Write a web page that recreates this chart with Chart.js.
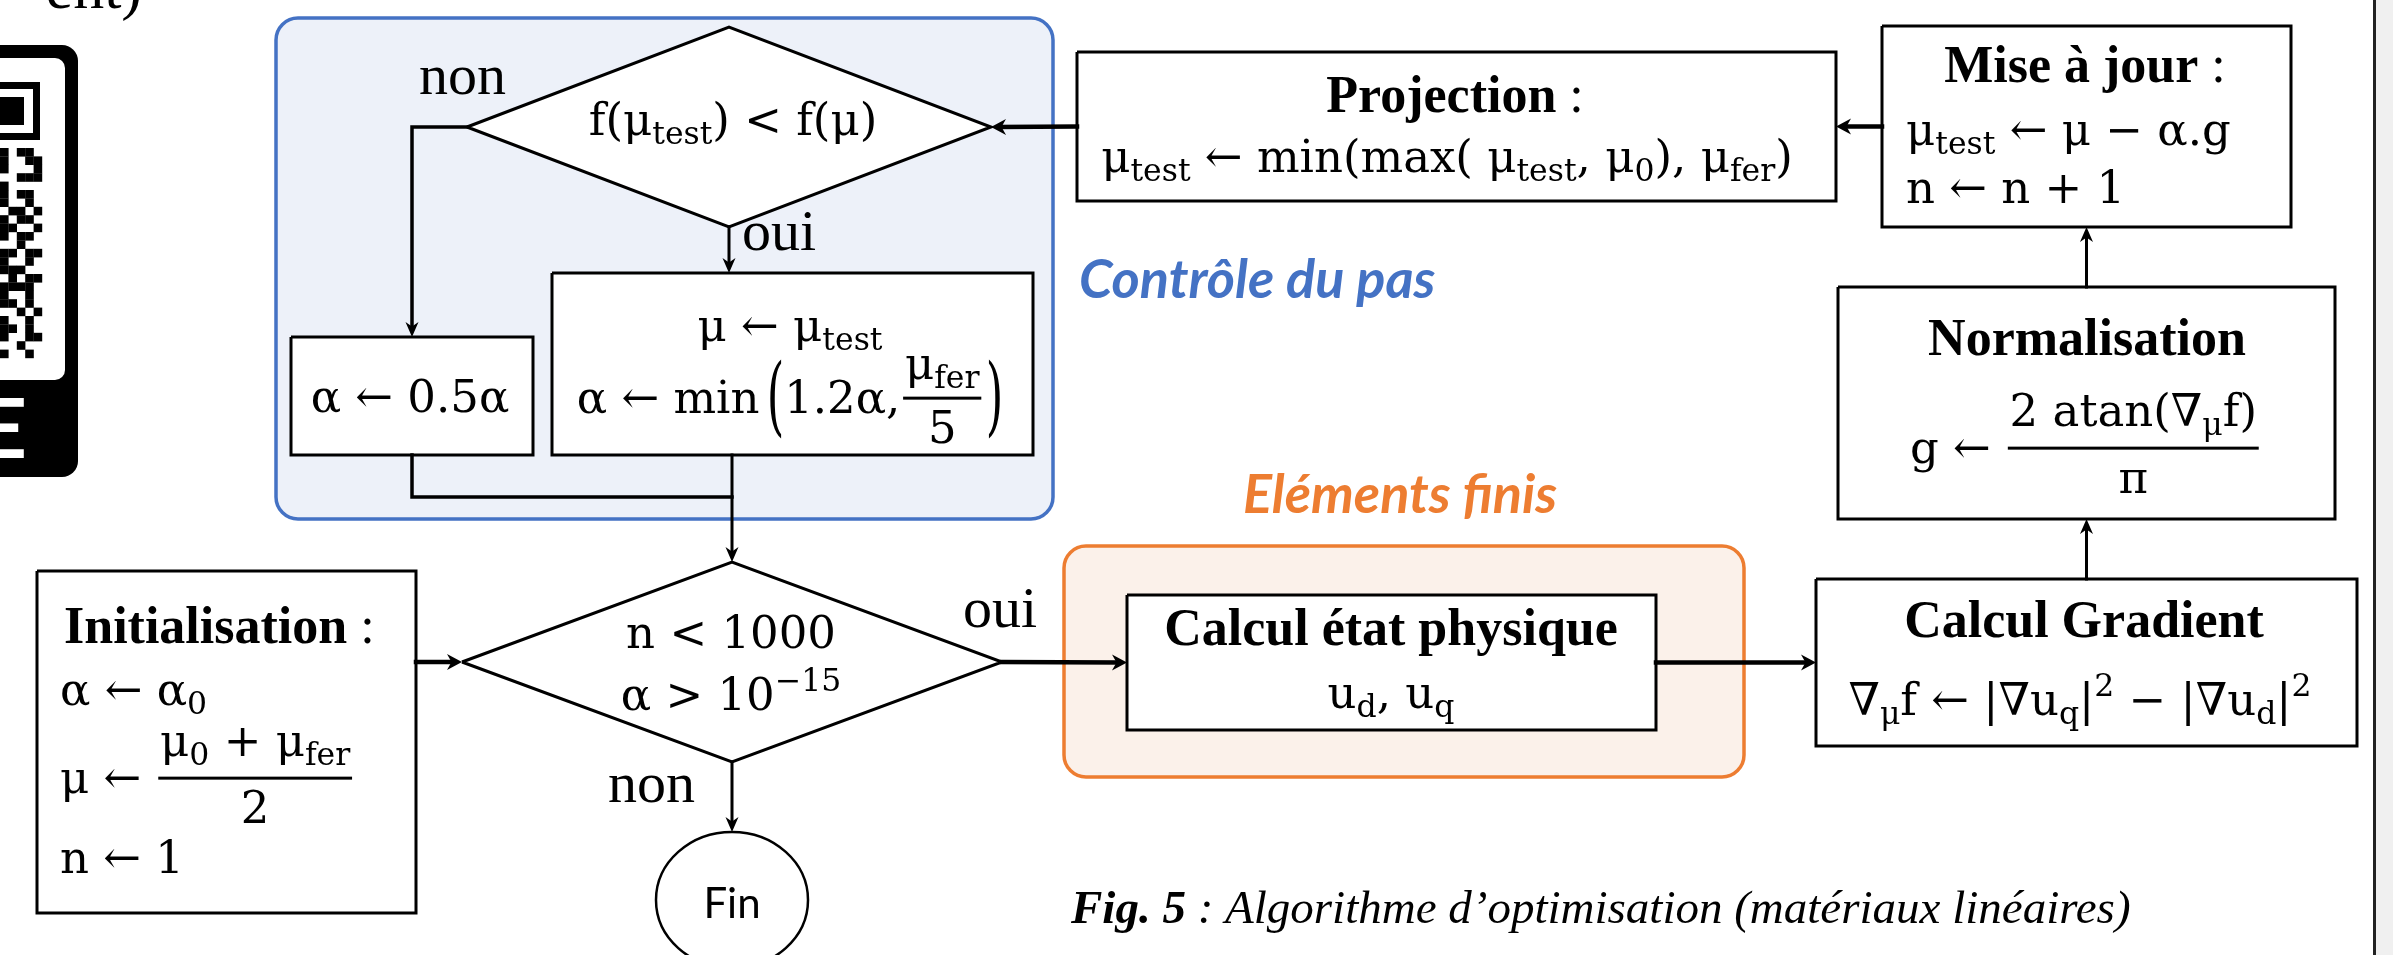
<!DOCTYPE html>
<html>
<head>
<meta charset="utf-8">
<title>Algorithme d'optimisation</title>
<script src="https://cdn.jsdelivr.net/npm/chart.js@4.4.1/dist/chart.umd.min.js"></script>
<style>
  html, body { margin: 0; padding: 0; background: #ffffff; overflow: hidden; }
  canvas { display: block; }
</style>
</head>
<body>
<canvas id="flowChart" width="2393" height="955"></canvas>
<script>
// ---- diagram content ----
var stepTitles = ['Initialisation', 'Projection', 'Mise à jour', 'Normalisation', 'Calcul Gradient', 'Calcul état physique'];
var testCondition = ['f(μ_{test}) < f(μ)'];
var loopCondition = ['n < 1000', 'α > 10^{−15}'];
var branchLabels = ['oui', 'non'];
var endLabel = ['Fin'];
var groupLabels = ['Contrôle du pas', 'Eléments finis'];
var captionParts = ['Fig. 5', ' : Algorithme d’optimisation (matériaux linéaires)'];

// formulas: _{} and ^{} are indices, objects are fractions / tall brackets
var initFormulas = ['α ← α_{0}', ['μ ← ', {frac: ['μ_{0} + μ_{fer}', '2']}], 'n ← 1'];
var shrinkFormula = ['α ← 0.5α'];
var acceptFormulas = ['μ ← μ_{test}', ['α ← min', {gap: 0.12}, {big: '(', k: 1.9}, '1.2α,', {frac: ['μ_{fer}', '5'], up: 0.42}, {big: ')', k: 1.9}]];
var projFormula = ['μ_{test} ← min(max( μ_{test}, μ_{0}), μ_{fer})'];
var updateFormulas = ['μ_{test} ← μ − α.g', 'n ← n + 1'];
var normFormula = [['g ← ', {frac: ['2 atan(∇_{μ}f)', 'π']}]];
var gradFormula = ['∇_{μ}f ← |∇u_{q}|^{2} − |∇u_{d}|^{2}'];
var femFormula = ['u_{d}, u_{q}'];

// ---- layout (axis units = pixels of the 2393 x 955 page) ----
var nodes = {
    init:   {shape: 'rect', box: [37, 571, 416, 913]},
    shrink: {shape: 'rect', box: [291, 337, 533, 455]},
    accept: {shape: 'rect', box: [552, 273, 1033, 455]},
    proj:   {shape: 'rect', box: [1077, 52, 1836, 201]},
    update: {shape: 'rect', box: [1882, 26, 2291, 227]},
    norm:   {shape: 'rect', box: [1838, 287, 2335, 519]},
    grad:   {shape: 'rect', box: [1816, 579, 2357, 746]},
    fem:    {shape: 'rect', box: [1127, 595, 1656, 730]},
    test:   {shape: 'diamond', box: [467, 27, 991, 227]},
    loop:   {shape: 'diamond', box: [462, 562, 1002, 762]}
};
var endNode = [656, 832, 808, 968];
var groups = [
    {box: [276, 18, 1053, 519], fill: '#edf1f9', stroke: '#4472c4'},
    {box: [1064, 546, 1744, 777], fill: '#fbf1ea', stroke: '#ed7d31'}
];
var mergeY = 497;

function cx(id) { var b = nodes[id].box; return (b[0] + b[2]) / 2; }
function cy(id) { var b = nodes[id].box; return (b[1] + b[3]) / 2; }
function anchor(id, side) {
    var b = nodes[id].box;
    if (side === 'left') return [b[0], cy(id)];
    if (side === 'right') return [b[2], cy(id)];
    if (side === 'top') return [cx(id), b[1]];
    return [cx(id), b[3]];
}

var edges = [
    {pts: [anchor('proj', 'left'), anchor('test', 'right')], arrow: true, w: 4.5},
    {pts: [anchor('update', 'left'), anchor('proj', 'right')], arrow: true, w: 4.5},
    {pts: [anchor('norm', 'top'), anchor('update', 'bottom')], arrow: true, w: 3},
    {pts: [anchor('grad', 'top'), anchor('norm', 'bottom')], arrow: true, w: 3},
    {pts: [anchor('fem', 'right'), anchor('grad', 'left')], arrow: true, w: 4.5},
    {pts: [anchor('loop', 'right'), anchor('fem', 'left')], arrow: true, w: 4.5},
    {pts: [[nodes.init.box[2], cy('loop')], anchor('loop', 'left')], arrow: true, w: 4.5},
    {pts: [anchor('loop', 'bottom'), [cx('loop'), endNode[1]]], arrow: true, w: 3},
    {pts: [anchor('test', 'bottom'), [cx('test'), nodes.accept.box[1]]], arrow: true, w: 3},
    {pts: [anchor('test', 'left'), [cx('shrink'), cy('test')], anchor('shrink', 'top')], arrow: true, w: 3.5},
    {pts: [anchor('shrink', 'bottom'), [cx('shrink'), mergeY], [cx('loop'), mergeY]], arrow: false, w: 3.5},
    {pts: [[cx('loop'), nodes.accept.box[3]], anchor('loop', 'top')], arrow: true, w: 3}
];

var colon = {plain: ' :'};
var texts = [
    {lines: testCondition, x: 733, y: [135], align: 'center', kind: 'math'},
    {lines: shrinkFormula, x: 410, y: [412], align: 'center', kind: 'math'},
    {lines: acceptFormulas, x: 790, y: [341, 413], align: 'center', kind: 'math'},
    {lines: [[stepTitles[1], colon]], x: 1455, y: [112], align: 'center', kind: 'title'},
    {lines: projFormula, x: 1447, y: [172], align: 'center', kind: 'math'},
    {lines: [[stepTitles[2], colon]], x: 2085, y: [82], align: 'center', kind: 'title'},
    {lines: updateFormulas, x: 1906, y: [145, 203], align: 'left', kind: 'math'},
    {lines: [stepTitles[3]], x: 2087, y: [355], align: 'center', kind: 'title'},
    {lines: normFormula, x: 1910, y: [463], align: 'left', kind: 'math'},
    {lines: [stepTitles[4]], x: 2084, y: [637], align: 'center', kind: 'title'},
    {lines: gradFormula, x: 2080, y: [715], align: 'center', kind: 'math'},
    {lines: [stepTitles[5]], x: 1391, y: [645], align: 'center', kind: 'title'},
    {lines: femFormula, x: 1391, y: [708], align: 'center', kind: 'math'},
    {lines: [[stepTitles[0], colon]], x: 64, y: [643], align: 'left', kind: 'title'},
    {lines: initFormulas, x: 60, y: [705, 793, 873], align: 'left', kind: 'math'},
    {lines: loopCondition, x: 731, y: [648, 710], align: 'center', kind: 'math'},
    {lines: [branchLabels[0]], x: 742, y: [250], align: 'left', kind: 'label'},
    {lines: [branchLabels[1]], x: 419, y: [94], align: 'left', kind: 'label'},
    {lines: [branchLabels[0]], x: 963, y: [627], align: 'left', kind: 'label'},
    {lines: [branchLabels[1]], x: 608, y: [802], align: 'left', kind: 'label'},
    {lines: endLabel, x: 732, y: [918], align: 'center', kind: 'sans'},
    {lines: [groupLabels[0]], x: 1079, y: [298], align: 'left', kind: 'group', color: '#4472c4'},
    {lines: [groupLabels[1]], x: 1243, y: [513], align: 'left', kind: 'group', color: '#ed7d31'}
];

var fonts = {
    math:  {size: 45, fam: '"DejaVu Serif", serif', style: ''},
    title: {size: 52, fam: '"Liberation Serif", serif', style: 'bold'},
    label: {size: 58, fam: '"Liberation Serif", serif', style: ''},
    sans:  {size: 42, fam: 'Lato, "Open Sans", sans-serif', style: ''},
    group: {size: 54, fam: 'Lato, "Open Sans", sans-serif', style: 'italic bold'},
    caption: {size: 47, fam: '"Liberation Serif", serif', style: 'italic'}
};

// qr badge at the left border (decoration)
var qrRows = ['X.XX.', 'X..XX', 'X...X', '..XXX', 'X....', 'X.XX.', 'X..X.', '.XX.X', 'X.XX.', 'XX..X',
              'X.XX.', '..X..', 'XX.XX', 'X..X.', 'XXX..', '.X.XX', 'XXXX.', 'X..X.', 'XX.X.', '..X.X',
              'X..X.', 'XX.X.', 'X..XX', '..X..', 'X..X.'];

// ---- mini math text ----
function parseRuns(s) {
    var runs = [], re = /([_^])\{([^}]*)\}/g, last = 0, m;
    while ((m = re.exec(s))) {
        if (m.index > last) runs.push({t: s.slice(last, m.index), k: ''});
        runs.push({t: m[2], k: m[1]});
        last = re.lastIndex;
    }
    if (last < s.length) runs.push({t: s.slice(last), k: ''});
    return runs;
}
function fontStr(size, f) { return (f.style ? f.style + ' ' : '') + size + 'px ' + f.fam; }

function measureItem(ctx, it, size, f) {
    if (typeof it === 'string') {
        var w = 0;
        parseRuns(it).forEach(function (r) {
            ctx.font = fontStr(r.k ? size * 0.7 : size, f);
            w += ctx.measureText(r.t).width;
        });
        return w;
    }
    if (it.plain) { ctx.font = size + 'px ' + f.fam; return ctx.measureText(it.plain).width; }
    if (it.frac) {
        return Math.max(measureItem(ctx, it.frac[0], size, f), measureItem(ctx, it.frac[1], size, f)) + size * 0.2;
    }
    if (it.big) { ctx.font = fontStr(size, f); return ctx.measureText(it.big).width * 1.1; }
    if (it.gap) return it.gap * size;
    return 0;
}
function drawItem(ctx, it, x, y, size, f) {
    if (typeof it === 'string') {
        parseRuns(it).forEach(function (r) {
            var s = r.k ? size * 0.7 : size;
            var dy = r.k === '_' ? size * 0.2 : (r.k === '^' ? -size * 0.42 : 0);
            ctx.font = fontStr(s, f);
            ctx.fillText(r.t, x, y + dy);
            x += ctx.measureText(r.t).width;
        });
    } else if (it.plain) {
        ctx.font = size + 'px ' + f.fam;
        ctx.fillText(it.plain, x, y);
    } else if (it.frac) {
        var w = measureItem(ctx, it, size, f);
        var bar = y - size * 0.33;
        ctx.fillRect(x + size * 0.06, bar - 1.5, w - size * 0.12, 3);
        var nw = measureItem(ctx, it.frac[0], size, f);
        var dw = measureItem(ctx, it.frac[1], size, f);
        drawItem(ctx, it.frac[0], x + (w - nw) / 2, bar - size * (it.up || 0.5), size, f);
        drawItem(ctx, it.frac[1], x + (w - dw) / 2, bar + size * (it.down || 1.0), size, f);
    } else if (it.big) {
        ctx.save();
        ctx.font = fontStr(size, f);
        ctx.translate(x, y - size * 0.33);
        ctx.scale(1, it.k);
        ctx.fillText(it.big, size * 0.04, size * 0.31);
        ctx.restore();
    }
}
function drawLine(ctx, line, x, y, align, f) {
    var items = typeof line === 'string' ? [line] : line;
    var w = 0;
    items.forEach(function (it) { w += measureItem(ctx, it, f.size, f); });
    var px = align === 'center' ? x - w / 2 : x;
    items.forEach(function (it) {
        drawItem(ctx, it, px, y, f.size, f);
        px += measureItem(ctx, it, f.size, f);
    });
}

function roundRect(ctx, x1, y1, x2, y2, r) {
    ctx.beginPath();
    ctx.moveTo(x1 + r, y1);
    ctx.arcTo(x2, y1, x2, y2, r);
    ctx.arcTo(x2, y2, x1, y2, r);
    ctx.arcTo(x1, y2, x1, y1, r);
    ctx.arcTo(x1, y1, x2, y1, r);
    ctx.closePath();
}

// ---- datasets built from the layout ----
function outline(node) {
    var b = node.box, mx = (b[0] + b[2]) / 2, my = (b[1] + b[3]) / 2;
    if (node.shape === 'diamond') {
        return [{x: b[0], y: my}, {x: mx, y: b[1]}, {x: b[2], y: my}, {x: mx, y: b[3]}, {x: b[0], y: my}];
    }
    return [{x: b[0], y: b[1]}, {x: b[2], y: b[1]}, {x: b[2], y: b[3]}, {x: b[0], y: b[3]}, {x: b[0], y: b[1]}];
}
var HEAD = 15;
function edgeData(e) {
    var pts = e.pts.map(function (p) { return {x: p[0], y: p[1]}; });
    if (e.arrow) {
        var a = pts[pts.length - 2], b = pts[pts.length - 1];
        var dx = b.x - a.x, dy = b.y - a.y, len = Math.sqrt(dx * dx + dy * dy);
        pts[pts.length - 1] = {x: b.x - dx / len * HEAD * 0.6, y: b.y - dy / len * HEAD * 0.6};
    }
    return pts;
}

var datasets = [];
edges.forEach(function (e) {
    datasets.push({data: edgeData(e), borderColor: '#000', borderWidth: e.w, fill: false,
        borderJoinStyle: 'miter', borderCapStyle: 'square', pointRadius: 0});
});
Object.keys(nodes).forEach(function (id) {
    datasets.push({data: outline(nodes[id]), borderColor: '#000', borderWidth: 3, fill: 'shape',
        backgroundColor: '#ffffff', borderJoinStyle: 'miter', pointRadius: 0});
});

var diagramPlugin = {
    id: 'diagram',
    beforeDatasetsDraw: function (chart) {
        var ctx = chart.ctx, X = chart.scales.x, Y = chart.scales.y;
        function px(v) { return X.getPixelForValue(v); }
        function py(v) { return Y.getPixelForValue(v); }
        ctx.save();
        // page edge on the right
        ctx.fillStyle = '#f0f0f0';
        ctx.fillRect(px(2376), py(0), px(2393) - px(2376), py(955) - py(0));
        ctx.fillStyle = '#222';
        ctx.fillRect(px(2373), py(0), 3, py(955) - py(0));

        // cropped text at the top-left corner
        ctx.fillStyle = '#000';
        ctx.font = '62px "Liberation Serif", serif';
        ctx.textAlign = 'right';
        ctx.fillText('ent)', px(142), py(8));
        ctx.textAlign = 'left';

        // qr badge
        ctx.fillStyle = '#000';
        roundRect(ctx, px(-30), py(45), px(78), py(477), 16);
        ctx.fill();
        ctx.fillStyle = '#fff';
        roundRect(ctx, px(-30), py(58), px(65), py(380), 10);
        ctx.fill();
        ctx.fillStyle = '#000';
        ctx.fillRect(px(0), py(82), 40, 58);
        ctx.fillStyle = '#fff';
        ctx.fillRect(px(0), py(89), 33, 44);
        ctx.fillStyle = '#000';
        ctx.fillRect(px(0), py(97), 24, 28);
        qrRows.forEach(function (row, r) {
            for (var c = 0; c < row.length; c++) {
                if (row[c] === 'X') ctx.fillRect(px(c * 8.4), py(148 + r * 8.4), 8.6, 8.6);
            }
        });
        ctx.fillStyle = '#fff';
        ctx.font = 'bold 82px Lato, sans-serif';
        ctx.textAlign = 'right';
        ctx.fillText('E', px(27), py(458));
        ctx.textAlign = 'left';

        // group frames
        groups.forEach(function (g) {
            roundRect(ctx, px(g.box[0]), py(g.box[1]), px(g.box[2]), py(g.box[3]), 22);
            ctx.fillStyle = g.fill;
            ctx.fill();
            ctx.lineWidth = 3.5;
            ctx.strokeStyle = g.stroke;
            ctx.stroke();
        });
        ctx.restore();
    },
    afterDatasetsDraw: function (chart) {
        var ctx = chart.ctx, X = chart.scales.x, Y = chart.scales.y;
        function px(v) { return X.getPixelForValue(v); }
        function py(v) { return Y.getPixelForValue(v); }
        ctx.save();
        // arrow heads
        ctx.fillStyle = '#000';
        edges.forEach(function (e) {
            if (!e.arrow) return;
            var a = e.pts[e.pts.length - 2], b = e.pts[e.pts.length - 1];
            var ax = px(a[0]), ay = py(a[1]), bx = px(b[0]), by = py(b[1]);
            var ang = Math.atan2(by - ay, bx - ax);
            var hw = e.w > 4 ? 8 : 6.5;
            ctx.save();
            ctx.translate(bx, by);
            ctx.rotate(ang);
            ctx.beginPath();
            ctx.moveTo(0, 0);
            ctx.lineTo(-HEAD, -hw);
            ctx.lineTo(-HEAD * 0.7, 0);
            ctx.lineTo(-HEAD, hw);
            ctx.closePath();
            ctx.fill();
            ctx.restore();
        });

        // end terminal
        ctx.beginPath();
        ctx.ellipse(px((endNode[0] + endNode[2]) / 2), py((endNode[1] + endNode[3]) / 2),
            (px(endNode[2]) - px(endNode[0])) / 2, (py(endNode[3]) - py(endNode[1])) / 2, 0, 0, Math.PI * 2);
        ctx.fillStyle = '#fff';
        ctx.fill();
        ctx.lineWidth = 2.5;
        ctx.strokeStyle = '#000';
        ctx.stroke();

        // texts
        ctx.textBaseline = 'alphabetic';
        ctx.textAlign = 'left';
        texts.forEach(function (t) {
            var f = fonts[t.kind];
            ctx.fillStyle = t.color || '#000';
            t.lines.forEach(function (line, i) {
                drawLine(ctx, line, px(t.x), py(t.y[i]), t.align, f);
            });
        });

        // caption
        ctx.fillStyle = '#000';
        var cf = fonts.caption;
        ctx.font = 'bold ' + fontStr(cf.size, cf);
        ctx.fillText(captionParts[0], px(1071), py(923));
        var cw = ctx.measureText(captionParts[0]).width;
        ctx.font = fontStr(cf.size, cf);
        ctx.fillText(captionParts[1], px(1071) + cw, py(923));
        ctx.restore();
    }
};

new Chart(document.getElementById('flowChart'), {
    type: 'line',
    data: {datasets: datasets},
    options: {
        responsive: false,
        animation: false,
        events: [],
        layout: {padding: 0},
        elements: {line: {tension: 0}, point: {radius: 0}},
        plugins: {legend: {display: false}, tooltip: {enabled: false}},
        scales: {
            x: {type: 'linear', min: 0, max: 2393, display: false},
            y: {type: 'linear', min: 0, max: 955, reverse: true, display: false}
        }
    },
    plugins: [diagramPlugin]
});
</script>
</body>
</html>
